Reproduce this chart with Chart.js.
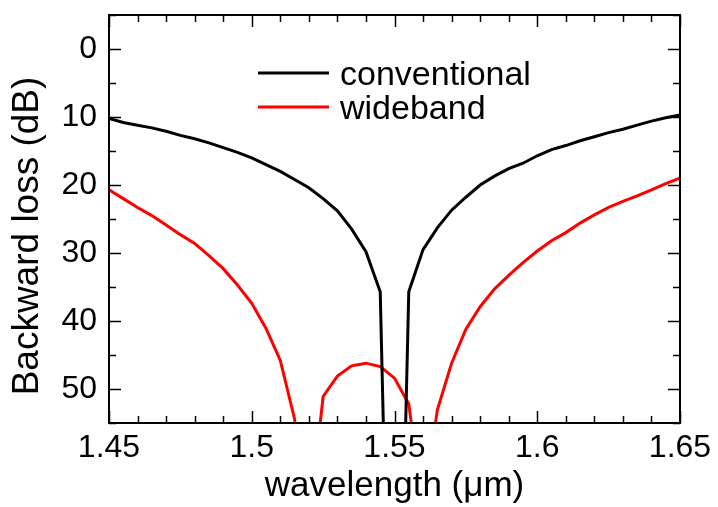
<!DOCTYPE html>
<html>
<head>
<meta charset="utf-8">
<script src="https://cdn.jsdelivr.net/npm/chart.js@4.4.0/dist/chart.umd.min.js"></script>
<style>
	body { margin: 0; background: #fff; }
	canvas { display: block; }
</style>
</head>
<body>
<canvas id="lossChart" width="718" height="507"></canvas>
<script>
// Backward loss vs wavelength, two filter designs

var wavelength = [
	1.450, 1.455, 1.460, 1.465, 1.470, 1.475, 1.480, 1.485, 1.490, 1.495,
	1.500, 1.505, 1.510, 1.515, 1.520, 1.525, 1.530, 1.535, 1.540, 1.545,
	1.550, 1.555, 1.560, 1.565, 1.570, 1.575, 1.580, 1.585, 1.590, 1.595,
	1.600, 1.605, 1.610, 1.615, 1.620, 1.625, 1.630, 1.635, 1.640, 1.645,
	1.650
];

var conventionalLoss = [
	10.2, 10.8, 11.2, 11.6, 12.1, 12.7, 13.2, 13.8, 14.5, 15.2,
	16.0, 17.0, 18.0, 19.2, 20.4, 22.0, 23.8, 26.5, 29.8, 35.7,
	125, 35.7, 29.5, 26.3, 23.7, 21.8, 20.0, 18.7, 17.6, 16.8,
	15.7, 14.8, 14.2, 13.5, 12.9, 12.3, 11.8, 11.2, 10.6, 10.1,
	9.7
];

var widebandLoss = [
	20.7, 22.0, 23.3, 24.5, 25.9, 27.3, 28.6, 30.4, 32.3, 34.7,
	37.4, 41.1, 45.8, 54.4, 70, 51.1, 48.1, 46.6, 46.2, 46.7,
	48.4, 52.2, 68, 53.1, 46.2, 41.2, 37.9, 35.3, 33.3, 31.4,
	29.7, 28.2, 27.0, 25.6, 24.4, 23.3, 22.4, 21.6, 20.7, 19.8,
	19.0
];

var xTickValues = [1.45, 1.5, 1.55, 1.6, 1.65];
var yTickValues = [0, 10, 20, 30, 40, 50];

var seriesNames = ['conventional', 'wideband'];
var seriesColors = ['#000000', '#ff0000'];

var xTitle = 'wavelength (\u03bcm)';
var yTitle = 'Backward loss (dB)';

function toPoints(ys) {
	return ys.map(function (y, i) { return { x: wavelength[i], y: y }; });
}

// frame, inward ticks on all four sides, legend and axis titles
var framePlugin = {
	id: 'frame',
	afterDraw: function (chart) {
		var ctx = chart.ctx;
		var a = chart.chartArea;
		var xs = chart.scales.x;
		var ys = chart.scales.y;
		ctx.save();
		ctx.strokeStyle = '#000';
		ctx.lineWidth = 2;
		ctx.strokeRect(a.left, a.top, a.right - a.left, a.bottom - a.top);

		ctx.lineWidth = 1.5;
		ctx.beginPath();
		for (var i = 0; i <= 20; i++) {
			var v = 1.45 + i * 0.01;
			var px = Math.round(xs.getPixelForValue(v)) + 0.5;
			var len = (i % 5 === 0) ? 12 : 7;
			ctx.moveTo(px, a.bottom); ctx.lineTo(px, a.bottom - len);
			ctx.moveTo(px, a.top); ctx.lineTo(px, a.top + len);
		}
		for (var j = -1; j <= 11; j++) {
			var w = j * 5;
			var py = Math.round(ys.getPixelForValue(w)) + 0.5;
			var l2 = (j % 2 === 0) ? 12 : 7;
			ctx.moveTo(a.left, py); ctx.lineTo(a.left + l2, py);
			ctx.moveTo(a.right, py); ctx.lineTo(a.right - l2, py);
		}
		ctx.stroke();

		// legend
		ctx.font = '34px "Liberation Sans", Arial, sans-serif';
		ctx.textAlign = 'left';
		ctx.textBaseline = 'alphabetic';
		chart.data.datasets.forEach(function (ds, k) {
			var ly = 73 + k * 34;
			ctx.strokeStyle = ds.borderColor;
			ctx.lineWidth = 3;
			ctx.beginPath();
			ctx.moveTo(258, ly); ctx.lineTo(329, ly);
			ctx.stroke();
			ctx.fillStyle = '#000';
			ctx.fillText(ds.label, 340, ly + 12);
		});

		// axis titles
		ctx.fillStyle = '#000';
		ctx.font = '35px "Liberation Sans", Arial, sans-serif';
		ctx.textAlign = 'center';
		ctx.fillText(xTitle, (a.left + a.right) / 2, 496);
		ctx.font = '37px "Liberation Sans", Arial, sans-serif';
		ctx.translate(28, 236);
		ctx.rotate(-Math.PI / 2);
		ctx.textBaseline = 'middle';
		ctx.fillText(yTitle, 0, 0);
		ctx.restore();
	}
};

var tickFont = { family: '"Liberation Sans", Arial, sans-serif', size: 32 };

new Chart(document.getElementById('lossChart'), {
	type: 'line',
	data: {
		datasets: [{
			label: seriesNames[0],
			data: toPoints(conventionalLoss),
			borderColor: seriesColors[0],
			borderWidth: 3,
			pointRadius: 0,
			clip: 0
		}, {
			label: seriesNames[1],
			data: toPoints(widebandLoss),
			borderColor: seriesColors[1],
			borderWidth: 3,
			pointRadius: 0,
			clip: 0
		}]
	},
	options: {
		responsive: false,
		animation: false,
		layout: { padding: { left: 0, right: 38, top: 15, bottom: 0 } },
		plugins: { legend: { display: false }, tooltip: { enabled: false } },
		scales: {
			x: {
				type: 'linear',
				min: 1.45,
				max: 1.65,
				grid: { display: false, drawTicks: false },
				border: { display: false },
				ticks: {
					color: '#000',
					font: tickFont,
					padding: 6,
					maxRotation: 0,
					callback: function (v) { return String(Number(v.toFixed(2))); }
				},
				afterBuildTicks: function (s) {
					s.ticks = xTickValues.map(function (v) { return { value: v }; });
				},
				afterFit: function (s) {
					s.height = 84;
					s.paddingLeft = 0;
					s.paddingRight = 0;
				}
			},
			y: {
				min: -5,
				max: 55,
				reverse: true,
				grid: { display: false, drawTicks: false },
				border: { display: false },
				ticks: {
					color: '#000',
					font: tickFont,
					padding: 12
				},
				afterBuildTicks: function (s) {
					s.ticks = yTickValues.map(function (v) { return { value: v }; });
				},
				afterFit: function (s) {
					s.width = 109;
					s.paddingTop = 0;
					s.paddingBottom = 0;
				}
			}
		}
	},
	plugins: [framePlugin]
});
</script>
</body>
</html>
